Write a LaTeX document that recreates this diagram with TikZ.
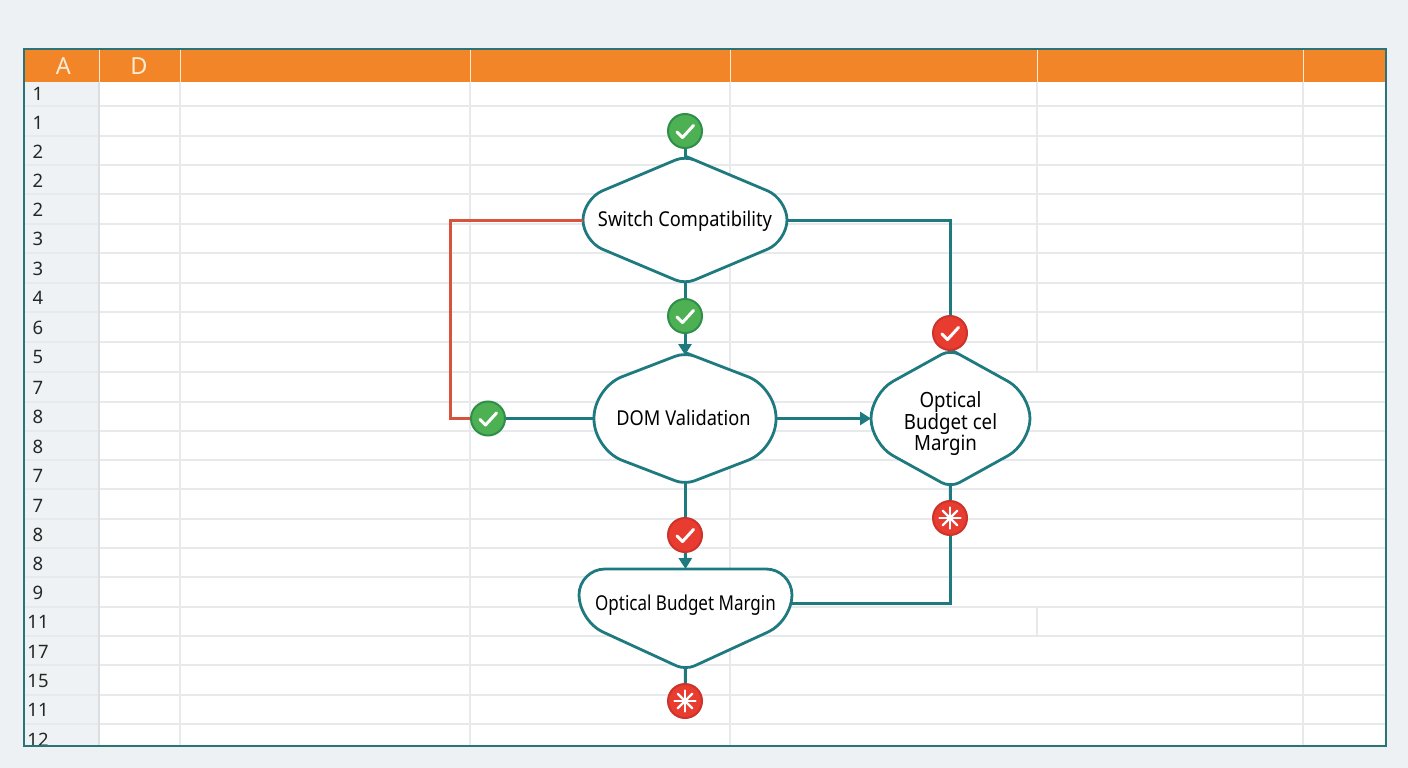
\documentclass[tikz,border=0pt]{standalone}
\usepackage{fontspec}
\setmainfont{Noto Sans}
\newfontfamily\labelfont[FakeStretch=0.89]{Noto Sans}
\newfontfamily\narrowfont[FakeStretch=0.83]{Noto Sans}
\usetikzlibrary{arrows.meta}
\pgfdeclarelayer{under}
\pgfsetlayers{under,main}
\definecolor{pagebg}{HTML}{EDF1F4}
\definecolor{frameteal}{HTML}{2A7378}
\definecolor{flowteal}{HTML}{1F7A80}
\definecolor{flowred}{HTML}{D9533C}
\definecolor{headorange}{HTML}{F28527}
\definecolor{headtext}{HTML}{FBEBD3}
\definecolor{gridgray}{HTML}{E7E9EB}
\definecolor{rowbg}{HTML}{EFF2F4}
\definecolor{rowsep}{HTML}{DCDFE2}
\definecolor{greenfill}{HTML}{4DB052}
\definecolor{greenedge}{HTML}{2E8F4B}
\definecolor{redfill}{HTML}{E83C30}
\definecolor{rededge}{HTML}{CB332B}
\tikzset{
  x=1pt,y=-1pt,
  gridline/.style={draw=gridgray,line width=1.2pt},
  shapeline/.style={draw=flowteal,fill=white,line width=2.8pt,line join=round},
  flowlabel/.style={inner sep=0pt,outer sep=0pt,font=\labelfont\fontsize{20.5}{22}\selectfont,text=black,align=center},
  conn/.style={draw=flowteal,line width=3pt},
  connred/.style={draw=flowred,line width=3pt},
  tip/.style={-{Triangle[width=13pt,length=11pt]}},
  badge/.style={circle,minimum size=34pt,inner sep=0pt,outer sep=0pt,line width=2pt},
  greenbadge/.style={badge,draw=greenedge,fill=greenfill},
  redbadge/.style={badge,draw=rededge,fill=redfill},
  glyph/.style={draw=white,line width=3pt,line cap=round,line join=round},
  checkmark/.style={path picture={
    \draw[glyph] ([shift={(-8,1)}]path picture bounding box.center)
      -- ([shift={(-2.5,6.5)}]path picture bounding box.center)
      -- ([shift={(8.5,-5.5)}]path picture bounding box.center);}},
  starmark/.style={path picture={
    \foreach \a in {0,45,...,315}
      \draw[draw=white,line width=2.2pt,line cap=round]
        (path picture bounding box.center) -- ++(\a:10.5);}},
  rownum/.style={font=\fontsize{18.5}{19}\selectfont,text=black!85,inner sep=0pt,yshift=-0.8pt},
  colhead/.style={font=\fontsize{23.5}{24}\selectfont,text=headtext,inner sep=0pt}
}
% cx cy halfwidth halfheight shoulder side-radius
\newcommand{\hexpath}[6]{%
  \path[shapeline] ({#1},{#2-#4})
    [rounded corners=#6pt] -- ({#1+#3},{#2-#5}) -- ({#1+#3},{#2+#5})
    [rounded corners=10pt] -- ({#1},{#2+#4})
    [rounded corners=#6pt] -- ({#1-#3},{#2+#5}) -- ({#1-#3},{#2-#5})
    [rounded corners=10pt] -- ({#1},{#2-#4}) -- ({#1+24},{#2-#4+24*(#4-#5)/#3});}
\begin{document}
\begin{tikzpicture}
\useasboundingbox (0,0) rectangle (1408,768);
\begin{pgfonlayer}{under}
  \fill[pagebg] (0,0) rectangle (1408,768);
  \fill[white] (24,49) rectangle (1386,746);
  \fill[rowbg] (24,82) rectangle (99,746);
  \foreach \yy in {106,136,165,194,224,253,283,312,342,372,402,431,460,489,519,548,577,607,636,665,695,724}
    \draw[gridline] (24,\yy) -- (1386,\yy);
  \foreach \xx in {180,470,730,1303}
    \draw[gridline] (\xx,82) -- (\xx,746);
  \draw[gridline] (1037,82) -- (1037,372);
  \draw[gridline] (1037,607) -- (1037,636);
  \draw[rowsep,line width=1.8pt] (99,82) -- (99,746);
  \fill[headorange] (24,49) rectangle (1386,82);
  \foreach \xx in {99.5,180,470,730,1037,1303}
    \draw[headtext,line width=1pt] (\xx,50) -- (\xx,82);
\end{pgfonlayer}

% row numbers, clipped by the sheet's lower edge
\begin{scope}
  \clip (24,49) rectangle (1386,745);
  \foreach \yy/\num in {93/1,122/1,151/2,180/2,209/2,238/3,268/3,297/4,327/6,356/5,387/7,416/8,446/8,475/7,505/7,534/8,563/8,592/9,621/11,651/17,680/15,709/11,739/12}
    \node[rownum] (row\yy) at (38,\yy) {\num};
\end{scope}
\node[colhead] (colA) at (63.5,66) {A};
\node[colhead] (colD) at (139,66) {D};
\draw[frameteal,line width=2pt] (24,49) rectangle (1386,746);

% decisions (anchors of the nodes lie on the outlines)
\node[flowlabel,text height=13pt,text depth=0pt,minimum width=204pt,minimum height=124pt] (sw) at (685,220) {Switch Compatibility};
\node[flowlabel,text height=13pt,text depth=0pt,minimum width=182pt,minimum height=127pt] (dom) at (685,418.5) {DOM Validation\hspace*{3pt}};
\node[flowlabel,font=\labelfont\fontsize{21}{22}\selectfont,minimum width=159pt,minimum height=133pt] (opt) at (950.5,418.5) {\rule{0pt}{27pt}Optical\\[-0.5pt]Budget cel\\[-0.5pt]Margin\hspace*{10pt}};
\node[flowlabel,font=\narrowfont\fontsize{20.5}{22}\selectfont,text height=14pt,text depth=0pt,minimum width=213pt,minimum height=68pt] (obm) at (685.5,603) {Optical Budget Margin};
\coordinate (obmtip) at (685.5,668);

% status badges
\node[greenbadge,checkmark] (b1) at (685,131) {};
\node[greenbadge,checkmark] (b2) at (685,316) {};
\node[greenbadge,checkmark] (b3) at (488,418.5) {};
\node[redbadge,checkmark] (r1) at (950,333) {};
\node[redbadge,checkmark] (r2) at (685,535) {};
\node[redbadge,starmark] (s1) at (950,518) {};
\node[redbadge,starmark] (s2) at (685,701) {};

\begin{pgfonlayer}{under}
  \hexpath{685}{220}{102}{64}{21}{21}
  \hexpath{685}{418.5}{91}{66}{31}{30}
  \hexpath{950.5}{418.5}{79.5}{69}{25}{25}
  \path[shapeline] (685.5,569)
    [rounded corners=26pt] -- (792,569) -- (792,621)
    [rounded corners=10pt] -- (685.5,670)
    [rounded corners=26pt] -- (579,621) -- (579,569) -- (685.5,569);

  \draw[conn] (b1) -- (sw.north);
  \draw[conn] (sw.south) -- (b2);
  \draw[conn,tip] (b2) -- (dom.north);
  \draw[conn] (sw.east) -| (r1);
  \draw[connred] (sw.west) -| (450,418.5) -- (b3);
  \draw[conn] (b3) -- (dom.west);
  \draw[conn,tip] (dom.east) -- (opt.west);
  \draw[conn] (dom.south) -- (r2);
  \draw[conn,tip] (r2) -- (obm.north);
  \draw[conn] (opt.south) -- (s1);
  \draw[conn] (obm.east) -| (s1);
  \draw[conn] (obmtip) -- (s2);
\end{pgfonlayer}
\end{tikzpicture}
\end{document}
